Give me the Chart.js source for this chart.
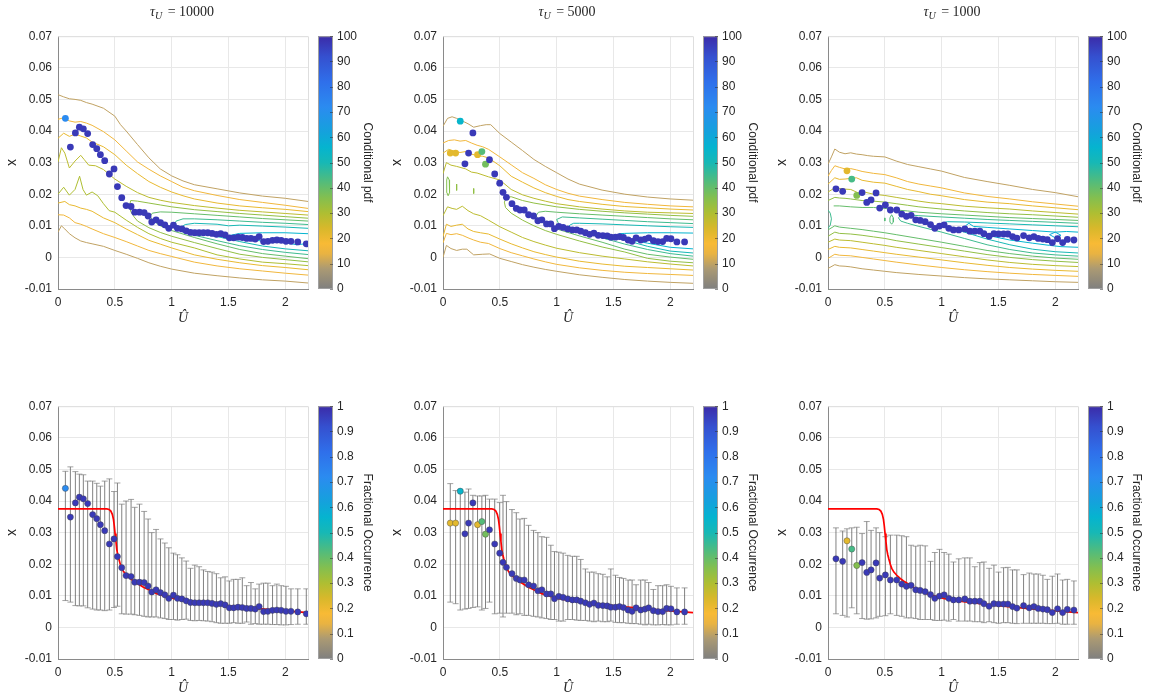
<!DOCTYPE html>
<html>
<head>
<meta charset="utf-8">
<script src="https://cdn.jsdelivr.net/npm/chart.js@4.4.1/dist/chart.umd.min.js"></script>
<style>
  html, body { margin: 0; padding: 0; background: #fff; width: 1153px; height: 700px; overflow: hidden; }
  canvas { position: absolute; }
</style>
</head>
<body>
<script>
// ---- axes / ticks ----
const xTicks = [0, 0.5, 1, 1.5, 2];
const yTicks = [-0.01, 0, 0.01, 0.02, 0.03, 0.04, 0.05, 0.06, 0.07];
const pdfTicks = [0, 10, 20, 30, 40, 50, 60, 70, 80, 90, 100];
const fracTicks = [0, 0.1, 0.2, 0.3, 0.4, 0.5, 0.6, 0.7, 0.8, 0.9, 1];
const tauValues = ['10000', '5000', '1000'];

// colour map (position 0..1, colour)
const cmapStops = [[0, '#7f7f7f'], [0.08, '#ab9a73'], [0.14, '#e9b342'], [0.18, '#f8ba35'], [0.24, '#d8b82b'],
  [0.30, '#aebe32'], [0.36, '#84bf4f'], [0.42, '#56bc78'], [0.50, '#17b8b5'], [0.56, '#05b4cf'],
  [0.62, '#14a2dc'], [0.72, '#2b8bf0'], [0.82, '#2f6fea'], [0.92, '#3550cf'], [1, '#3b2ba8']];

// red model curve (same in all three lower panels)
const redU = [0,0.43,0.45,0.465,0.478,0.488,0.495,0.502,0.51,0.517,0.526,0.535,0.548,0.561,0.58,0.605,0.635,0.664,0.70,0.752,0.80,0.869,0.94,1.016,1.12,1.25,1.40,1.545,1.70,1.84,2.00,2.20];
const redX = [0.0375,0.0375,0.0373,0.0368,0.0358,0.0342,0.0322,0.0297,0.0272,0.0247,0.0230,0.0217,0.0200,0.0187,0.0175,0.0165,0.0155,0.0147,0.0139,0.0127,0.0119,0.0107,0.0099,0.0092,0.0085,0.0079,0.0073,0.0067,0.0062,0.0057,0.0052,0.0047];

// ---- tau_U = 10000 ----
const uHat10000 = [0.065,0.109,0.153,0.188,0.223,0.261,0.305,0.341,0.373,0.411,0.452,0.493,0.523,0.561,0.599,0.643,0.675,0.717,0.758,0.793,0.825,0.863,0.902,0.940,0.975,1.016,1.051,1.090,1.128,1.166,1.204,1.242,1.280,1.318,1.356,1.394,1.432,1.470,1.508,1.546,1.584,1.622,1.660,1.698,1.736,1.770,1.809,1.847,1.888,1.926,1.964,2.006,2.050,2.110,2.185];
const x10000 = [0.0440,0.0349,0.0394,0.0412,0.0407,0.0392,0.0357,0.0344,0.0325,0.0306,0.0264,0.0280,0.0224,0.0189,0.0164,0.0161,0.0143,0.0143,0.0142,0.0131,0.0112,0.0119,0.0110,0.0103,0.0092,0.0102,0.0092,0.0090,0.0084,0.0079,0.0078,0.0078,0.0078,0.0078,0.0076,0.0073,0.0075,0.0071,0.0062,0.0062,0.0064,0.0063,0.0060,0.0060,0.0058,0.0066,0.0050,0.0051,0.0054,0.0055,0.0054,0.0051,0.0051,0.0049,0.0043];
const frac10000 = [0.72,0.97,0.97,0.97,0.97,0.97,0.97,0.97,0.97,0.97,0.97,0.97,0.97,0.97,0.97,0.97,0.97,0.97,0.97,0.97,0.97,0.97,0.97,0.97,0.97,0.97,0.97,0.97,0.97,0.97,0.97,0.97,0.97,0.97,0.97,0.97,0.97,0.97,0.97,0.97,0.97,0.97,0.97,0.97,0.97,0.97,0.97,0.97,0.97,0.97,0.97,0.97,0.97,0.97,0.97];
const hi10000 = [0.0494,0.0508,0.0493,0.0485,0.0483,0.0463,0.0463,0.0456,0.0447,0.0463,0.0470,0.0430,0.0457,0.0390,0.0400,0.0405,0.0380,0.0390,0.0367,0.0343,0.0300,0.0310,0.0280,0.0267,0.0252,0.0235,0.0230,0.0220,0.0210,0.0187,0.0197,0.0192,0.0182,0.0177,0.0175,0.0170,0.0157,0.0160,0.0147,0.0152,0.0152,0.0157,0.0132,0.0142,0.0122,0.0137,0.0140,0.0140,0.0132,0.0137,0.0132,0.0130,0.0122,0.0122,0.0122];
const lo10000 = [0.0085,0.0080,0.0069,0.0068,0.0068,0.0062,0.0058,0.0055,0.0055,0.0053,0.0055,0.0063,0.0067,0.0043,0.0042,0.0042,0.0040,0.0038,0.0035,0.0033,0.0033,0.0033,0.0030,0.0028,0.0025,0.0025,0.0023,0.0025,0.0026,0.0022,0.0021,0.0022,0.0021,0.0020,0.0018,0.0015,0.0013,0.0013,0.0013,0.0015,0.0013,0.0013,0.0017,0.0010,0.0012,0.0010,0.0010,0.0010,0.0009,0.0009,0.0008,0.0008,0.0009,0.0010,0.0010];
const contour10000 = [
  [10, [[0,0.0515],[0.05,0.0508],[0.1,0.0502],[0.15,0.0500],[0.2,0.0497],[0.25,0.0490],[0.3,0.0485],[0.4,0.0472],[0.5,0.0447],[0.55,0.0420],[0.6,0.0400],[0.7,0.0357],[0.8,0.0315],[0.9,0.0280],[1.0,0.0258],[1.1,0.0242],[1.2,0.0230],[1.4,0.0217],[1.6,0.0204],[1.8,0.0194],[2.0,0.0187],[2.2,0.0177]]],
  [10, [[0,0.0080],[0.03,0.0100],[0.06,0.0090],[0.1,0.0075],[0.15,0.0062],[0.2,0.0052],[0.25,0.0047],[0.3,0.0043],[0.4,0.0035],[0.5,0.0022],[0.6,0.0010],[0.7,-0.0003],[0.8,-0.0017],[0.9,-0.0028],[1.0,-0.0037],[1.2,-0.0050],[1.4,-0.0058],[1.6,-0.0065],[1.8,-0.0071],[2.0,-0.0075],[2.2,-0.0081]]],
  [16, [[0,0.0437],[0.05,0.0442],[0.1,0.0432],[0.15,0.0428],[0.2,0.0430],[0.25,0.0425],[0.3,0.0418],[0.4,0.0398],[0.5,0.0372],[0.6,0.0337],[0.7,0.0302],[0.8,0.0279],[0.9,0.0258],[1.0,0.0240],[1.1,0.0222],[1.2,0.0211],[1.4,0.0196],[1.6,0.0183],[1.8,0.0174],[2.0,0.0165],[2.2,0.0155]]],
  [16, [[0,0.0135],[0.05,0.0134],[0.1,0.0125],[0.15,0.0110],[0.2,0.0105],[0.25,0.0098],[0.3,0.0090],[0.4,0.0075],[0.5,0.0063],[0.6,0.0050],[0.7,0.0036],[0.8,0.0022],[0.9,0.0012],[1.0,0.0003],[1.2,-0.0015],[1.4,-0.0027],[1.6,-0.0036],[1.8,-0.0043],[2.0,-0.0050],[2.2,-0.0056]]],
  [21, [[0,0.0377],[0.05,0.0393],[0.1,0.0383],[0.15,0.0390],[0.2,0.0384],[0.25,0.0378],[0.3,0.0365],[0.4,0.0350],[0.5,0.0325],[0.6,0.0292],[0.7,0.0265],[0.8,0.0240],[0.9,0.0222],[1.0,0.0207],[1.1,0.0195],[1.2,0.0185],[1.4,0.0172],[1.6,0.0163],[1.8,0.0157],[2.0,0.0152],[2.2,0.0145]]],
  [21, [[0,0.0172],[0.06,0.0177],[0.1,0.0167],[0.15,0.0163],[0.2,0.0156],[0.25,0.0152],[0.3,0.0146],[0.4,0.0125],[0.5,0.0110],[0.6,0.0090],[0.7,0.0072],[0.8,0.0054],[0.9,0.0042],[1.0,0.0030],[1.2,0.0008],[1.4,-0.0006],[1.6,-0.0017],[1.8,-0.0026],[2.0,-0.0032],[2.2,-0.0039]]],
  [28, [[0,0.0302],[0.03,0.0347],[0.06,0.0330],[0.1,0.0283],[0.15,0.0305],[0.2,0.0323],[0.23,0.0310],[0.27,0.0292],[0.33,0.0290],[0.4,0.0278],[0.5,0.0248],[0.6,0.0225],[0.7,0.0205],[0.8,0.0190],[0.9,0.0181],[1.0,0.0174],[1.2,0.0164],[1.4,0.0156],[1.6,0.0149],[1.8,0.0144],[2.0,0.0139],[2.2,0.0134]]],
  [30, [[0,0.0200],[0.05,0.0222],[0.1,0.0197],[0.15,0.0215],[0.19,0.0257],[0.22,0.0215],[0.25,0.0197],[0.3,0.0207],[0.35,0.0195],[0.4,0.0170],[0.45,0.0148],[0.5,0.0143],[0.6,0.0118],[0.7,0.0095],[0.8,0.0075],[0.9,0.0060],[1.0,0.0048],[1.2,0.0030],[1.4,0.0008],[1.6,-0.0005],[1.8,-0.0015],[2.0,-0.0020],[2.2,-0.0026]]],
  [34, [[2.2,0.0124],[2.0,0.0129],[1.8,0.0134],[1.6,0.0139],[1.4,0.0145],[1.2,0.0151],[1.0,0.0160],[0.9,0.0166],[0.8,0.0172],[0.7,0.0178],[0.64,0.0180],[0.63,0.0165],[0.64,0.0145],[0.67,0.0128],[0.7,0.0115],[0.8,0.0094],[0.9,0.0079],[1.0,0.0067],[1.2,0.0047],[1.4,0.0028],[1.6,0.0010],[1.8,0.0000],[2.0,-0.0007],[2.2,-0.0014]]],
  [40, [[2.2,0.0115],[2.0,0.0119],[1.8,0.0123],[1.6,0.0128],[1.4,0.0133],[1.2,0.0138],[1.0,0.0143],[0.9,0.0144],[0.83,0.0140],[0.81,0.0130],[0.83,0.0118],[0.9,0.0100],[1.0,0.0085],[1.2,0.0063],[1.4,0.0043],[1.6,0.0025],[1.8,0.0012],[2.0,0.0004],[2.2,-0.0004]]],
  [45, [[2.2,0.0104],[2.0,0.0108],[1.8,0.0111],[1.6,0.0115],[1.4,0.0119],[1.2,0.0122],[1.1,0.0122],[1.04,0.0115],[1.02,0.0102],[1.05,0.0088],[1.1,0.0080],[1.2,0.0070],[1.4,0.0053],[1.6,0.0037],[1.8,0.0025],[2.0,0.0016],[2.2,0.0009]]],
  [50, [[2.2,0.0092],[2.0,0.0096],[1.8,0.0099],[1.6,0.0102],[1.5,0.0100],[1.4,0.0105],[1.2,0.0108],[1.12,0.0104],[1.08,0.0095],[1.12,0.0086],[1.2,0.0080],[1.4,0.0066],[1.6,0.0050],[1.8,0.0036],[2.0,0.0027],[2.2,0.0021]]],
  [56, [[2.2,0.0075],[2.0,0.0078],[1.8,0.0078],[1.6,0.0076],[1.52,0.0070],[1.5,0.0063],[1.55,0.0058],[1.6,0.0058],[1.8,0.0052],[2.0,0.0047],[2.1,0.0040],[2.2,0.0044]]]
];

// ---- tau_U = 5000 ----
const uHat5000 = [0.064,0.111,0.152,0.193,0.225,0.263,0.304,0.342,0.374,0.409,0.455,0.499,0.528,0.558,0.607,0.645,0.677,0.715,0.753,0.797,0.835,0.870,0.911,0.949,0.981,1.019,1.057,1.098,1.139,1.177,1.212,1.253,1.290,1.328,1.366,1.407,1.445,1.477,1.518,1.553,1.588,1.629,1.664,1.699,1.740,1.778,1.810,1.851,1.892,1.933,1.968,2.006,2.058,2.126];
const x5000 = [0.0330,0.0330,0.0431,0.0296,0.0330,0.0394,0.0325,0.0335,0.0295,0.0309,0.0264,0.0235,0.0206,0.0190,0.0170,0.0155,0.0150,0.0150,0.0135,0.0131,0.0116,0.0119,0.0106,0.0106,0.0091,0.0098,0.0095,0.0090,0.0087,0.0087,0.0083,0.0078,0.0073,0.0077,0.0070,0.0069,0.0068,0.0064,0.0064,0.0066,0.0063,0.0055,0.0051,0.0062,0.0055,0.0058,0.0062,0.0053,0.0050,0.0050,0.0060,0.0059,0.0049,0.0049];
const frac5000 = [0.22,0.22,0.55,0.97,0.97,0.97,0.22,0.42,0.38,0.97,0.97,0.97,0.97,0.97,0.97,0.97,0.97,0.97,0.97,0.97,0.97,0.97,0.97,0.97,0.97,0.97,0.97,0.97,0.97,0.97,0.97,0.97,0.97,0.97,0.97,0.97,0.97,0.97,0.97,0.97,0.97,0.97,0.97,0.97,0.97,0.97,0.97,0.97,0.97,0.97,0.97,0.97,0.97,0.97];
const hi5000 = [0.0455,0.0433,0.0435,0.0428,0.0438,0.0418,0.0416,0.0416,0.0418,0.0406,0.0406,0.0395,0.0418,0.0398,0.0373,0.0363,0.0343,0.0345,0.0323,0.0307,0.0300,0.0287,0.0285,0.0260,0.0240,0.0238,0.0235,0.0228,0.0225,0.0225,0.0215,0.0185,0.0175,0.0175,0.0170,0.0168,0.0160,0.0185,0.0165,0.0158,0.0155,0.0150,0.0150,0.0135,0.0150,0.0150,0.0142,0.0120,0.0132,0.0132,0.0135,0.0130,0.0125,0.0125];
const lo5000 = [0.0080,0.0075,0.0055,0.0058,0.0060,0.0063,0.0065,0.0055,0.0060,0.0080,0.0043,0.0045,0.0033,0.0045,0.0045,0.0040,0.0043,0.0038,0.0038,0.0035,0.0033,0.0030,0.0028,0.0025,0.0025,0.0020,0.0020,0.0025,0.0025,0.0023,0.0022,0.0022,0.0020,0.0018,0.0020,0.0018,0.0018,0.0020,0.0016,0.0015,0.0015,0.0013,0.0012,0.0012,0.0010,0.0008,0.0010,0.0008,0.0008,0.0009,0.0008,0.0008,0.0010,0.0010];
const contour5000 = [
  [10, [[0,0.0415],[0.04,0.0440],[0.08,0.0445],[0.12,0.0440],[0.18,0.0430],[0.22,0.0423],[0.27,0.0412],[0.33,0.0417],[0.38,0.0420],[0.42,0.0420],[0.5,0.0392],[0.6,0.0365],[0.7,0.0338],[0.8,0.0310],[0.9,0.0288],[1.0,0.0268],[1.1,0.0248],[1.2,0.0232],[1.4,0.0213],[1.6,0.0200],[1.8,0.0191],[2.0,0.0185],[2.2,0.0181]]],
  [10, [[0,0.0000],[0.03,0.0038],[0.07,0.0028],[0.12,0.0022],[0.17,0.0026],[0.21,0.0026],[0.27,0.0008],[0.35,0.0010],[0.41,0.0011],[0.5,-0.0003],[0.6,-0.0013],[0.7,-0.0023],[0.8,-0.0031],[0.9,-0.0038],[1.0,-0.0044],[1.2,-0.0055],[1.4,-0.0063],[1.6,-0.0070],[1.8,-0.0075],[2.0,-0.0079],[2.2,-0.0082]]],
  [16, [[0,0.0362],[0.05,0.0370],[0.1,0.0372],[0.15,0.0368],[0.2,0.0370],[0.25,0.0362],[0.3,0.0355],[0.35,0.0350],[0.4,0.0342],[0.5,0.0318],[0.6,0.0293],[0.7,0.0268],[0.8,0.0250],[0.9,0.0230],[1.0,0.0215],[1.1,0.0203],[1.2,0.0194],[1.4,0.0183],[1.6,0.0174],[1.8,0.0168],[2.0,0.0163],[2.2,0.0160]]],
  [16, [[0,0.0046],[0.03,0.0076],[0.07,0.0072],[0.12,0.0075],[0.17,0.0070],[0.22,0.0062],[0.27,0.0055],[0.33,0.0048],[0.4,0.0044],[0.5,0.0028],[0.6,0.0015],[0.7,0.0005],[0.8,-0.0005],[0.9,-0.0014],[1.0,-0.0022],[1.2,-0.0033],[1.4,-0.0041],[1.6,-0.0047],[1.8,-0.0051],[2.0,-0.0054],[2.2,-0.0057]]],
  [21, [[0,0.0330],[0.05,0.0342],[0.1,0.0336],[0.15,0.0332],[0.2,0.0335],[0.25,0.0327],[0.3,0.0322],[0.35,0.0320],[0.4,0.0315],[0.5,0.0290],[0.6,0.0257],[0.7,0.0238],[0.8,0.0220],[0.9,0.0205],[1.0,0.0193],[1.1,0.0183],[1.2,0.0177],[1.4,0.0168],[1.6,0.0161],[1.8,0.0157],[2.0,0.0153],[2.2,0.0150]]],
  [21, [[0,0.0066],[0.03,0.0105],[0.07,0.0098],[0.12,0.0102],[0.17,0.0105],[0.22,0.0090],[0.27,0.0082],[0.33,0.0078],[0.4,0.0074],[0.5,0.0058],[0.6,0.0043],[0.7,0.0030],[0.8,0.0018],[0.9,0.0009],[1.0,0.0001],[1.2,-0.0012],[1.4,-0.0021],[1.6,-0.0028],[1.8,-0.0032],[2.0,-0.0036],[2.2,-0.0040]]],
  [28, [[0,0.0265],[0.03,0.0300],[0.07,0.0292],[0.12,0.0288],[0.2,0.0280],[0.25,0.0270],[0.3,0.0267],[0.4,0.0255],[0.5,0.0245],[0.6,0.0215],[0.7,0.0198],[0.8,0.0187],[0.9,0.0178],[1.0,0.0170],[1.2,0.0160],[1.4,0.0153],[1.6,0.0147],[1.8,0.0143],[2.0,0.0141],[2.2,0.0139]]],
  [28, [[0,0.0132],[0.04,0.0160],[0.08,0.0155],[0.12,0.0152],[0.17,0.0162],[0.22,0.0148],[0.27,0.0138],[0.33,0.0132],[0.4,0.0118],[0.5,0.0097],[0.6,0.0080],[0.7,0.0063],[0.8,0.0050],[0.9,0.0039],[1.0,0.0029],[1.2,0.0015],[1.4,0.0004],[1.6,-0.0005],[1.8,-0.0014],[2.0,-0.0021],[2.2,-0.0027]]],
  [34, [[2.2,0.0130],[2.0,0.0133],[1.8,0.0137],[1.6,0.0141],[1.4,0.0146],[1.2,0.0152],[1.0,0.0160],[0.8,0.0172],[0.7,0.0180],[0.6,0.0192],[0.56,0.0190],[0.54,0.0175],[0.55,0.0158],[0.6,0.0140],[0.7,0.0118],[0.8,0.0100],[0.9,0.0085],[1.0,0.0073],[1.2,0.0052],[1.4,0.0033],[1.6,0.0017],[1.8,-0.0003],[2.0,-0.0012],[2.2,-0.0017]]],
  [40, [[2.2,0.0119],[2.0,0.0122],[1.8,0.0126],[1.6,0.0130],[1.4,0.0134],[1.2,0.0138],[1.0,0.0143],[0.9,0.0146],[0.84,0.0143],[0.82,0.0132],[0.84,0.0118],[0.9,0.0105],[1.0,0.0090],[1.2,0.0068],[1.4,0.0048],[1.6,0.0026],[1.8,0.0010],[2.0,0.0001],[2.2,-0.0006]]],
  [45, [[2.2,0.0107],[2.0,0.0110],[1.8,0.0113],[1.6,0.0117],[1.4,0.0121],[1.2,0.0125],[1.05,0.0128],[1.0,0.0120],[1.02,0.0105],[1.1,0.0092],[1.2,0.0082],[1.4,0.0062],[1.6,0.0042],[1.8,0.0025],[2.0,0.0012],[2.2,0.0004]]],
  [50, [[2.2,0.0095],[2.0,0.0097],[1.8,0.0100],[1.6,0.0103],[1.4,0.0106],[1.2,0.0108],[1.15,0.0108],[1.12,0.0103],[1.1,0.0096],[1.13,0.0088],[1.2,0.0083],[1.4,0.0070],[1.6,0.0055],[1.8,0.0035],[2.0,0.0020],[2.2,0.0014]]],
  [56, [[2.2,0.0077],[2.0,0.0078],[1.8,0.0078],[1.6,0.0076],[1.55,0.0075],[1.53,0.0068],[1.58,0.0062],[1.7,0.0052],[1.8,0.0045],[2.0,0.0032],[2.2,0.0027]]],
  [36, [[0.04,0.0255],[0.055,0.0245],[0.06,0.0225],[0.055,0.0205],[0.045,0.0195],[0.035,0.0205],[0.03,0.0225],[0.035,0.0245],[0.04,0.0255]]],
  [34, [[0.12,0.0232],[0.12,0.0212]]],
  [34, [[0.27,0.0218],[0.27,0.0202]]]
];

// ---- tau_U = 1000 ----
const uHat1000 = [0.070,0.129,0.167,0.209,0.253,0.300,0.341,0.379,0.423,0.455,0.505,0.549,0.605,0.649,0.690,0.731,0.772,0.811,0.855,0.902,0.940,0.981,1.022,1.063,1.104,1.151,1.204,1.248,1.292,1.336,1.372,1.418,1.460,1.501,1.545,1.583,1.624,1.662,1.721,1.771,1.812,1.850,1.891,1.930,1.974,2.020,2.065,2.106,2.164];
const x1000 = [0.0217,0.0209,0.0274,0.0248,0.0196,0.0205,0.0174,0.0182,0.0204,0.0156,0.0166,0.0150,0.0150,0.0137,0.0130,0.0133,0.0119,0.0117,0.0113,0.0104,0.0092,0.0099,0.0103,0.0092,0.0087,0.0087,0.0090,0.0083,0.0083,0.0083,0.0075,0.0067,0.0075,0.0074,0.0074,0.0074,0.0066,0.0061,0.0069,0.0062,0.0066,0.0060,0.0058,0.0056,0.0047,0.0059,0.0047,0.0057,0.0055];
const frac1000 = [0.97,0.97,0.22,0.44,0.36,0.97,0.97,0.97,0.97,0.97,0.97,0.97,0.97,0.97,0.97,0.97,0.97,0.97,0.97,0.97,0.97,0.97,0.97,0.97,0.97,0.97,0.97,0.97,0.97,0.97,0.97,0.97,0.97,0.97,0.97,0.97,0.97,0.97,0.97,0.97,0.97,0.97,0.97,0.97,0.97,0.97,0.97,0.97,0.97];
const hi1000 = [0.0315,0.0305,0.0312,0.0315,0.0317,0.0297,0.0335,0.0307,0.0315,0.0300,0.0287,0.0292,0.0292,0.0290,0.0287,0.0260,0.0257,0.0260,0.0258,0.0209,0.0237,0.0247,0.0237,0.0232,0.0207,0.0217,0.0220,0.0220,0.0192,0.0205,0.0207,0.0187,0.0197,0.0175,0.0189,0.0190,0.0182,0.0182,0.0167,0.0172,0.0169,0.0169,0.0165,0.0152,0.0162,0.0169,0.0150,0.0152,0.0147];
const lo1000 = [0.0043,0.0038,0.0033,0.0062,0.0043,0.0028,0.0026,0.0027,0.0030,0.0035,0.0037,0.0043,0.0038,0.0035,0.0030,0.0030,0.0028,0.0025,0.0025,0.0025,0.0022,0.0022,0.0023,0.0020,0.0025,0.0020,0.0020,0.0020,0.0018,0.0018,0.0015,0.0018,0.0015,0.0013,0.0015,0.0015,0.0013,0.0012,0.0013,0.0013,0.0013,0.0013,0.0013,0.0012,0.0012,0.0013,0.0010,0.0010,0.0010];
const contour1000 = [
  [10, [[0,0.0295],[0.03,0.0318],[0.06,0.0343],[0.1,0.0333],[0.15,0.0328],[0.2,0.0331],[0.25,0.0327],[0.3,0.0325],[0.35,0.0322],[0.4,0.0320],[0.5,0.0318],[0.6,0.0305],[0.7,0.0294],[0.8,0.0287],[0.9,0.0280],[1.0,0.0273],[1.2,0.0253],[1.4,0.0240],[1.6,0.0228],[1.8,0.0215],[2.0,0.0205],[2.2,0.0192]]],
  [10, [[0,-0.0035],[0.06,-0.0023],[0.1,-0.0027],[0.15,-0.0028],[0.2,-0.0030],[0.3,-0.0036],[0.4,-0.0040],[0.5,-0.0044],[0.6,-0.0048],[0.8,-0.0054],[1.0,-0.0059],[1.2,-0.0064],[1.4,-0.0068],[1.6,-0.0071],[1.8,-0.0074],[2.0,-0.0077],[2.2,-0.0079]]],
  [16, [[0,0.0257],[0.03,0.0275],[0.06,0.0290],[0.1,0.0285],[0.15,0.0280],[0.2,0.0281],[0.25,0.0277],[0.3,0.0272],[0.4,0.0266],[0.5,0.0262],[0.6,0.0252],[0.7,0.0240],[0.8,0.0232],[0.9,0.0226],[1.0,0.0220],[1.2,0.0204],[1.4,0.0193],[1.6,0.0185],[1.8,0.0176],[2.0,0.0169],[2.2,0.0162]]],
  [16, [[0,-0.0003],[0.06,0.0010],[0.1,0.0007],[0.15,0.0006],[0.2,0.0005],[0.3,0.0000],[0.4,-0.0005],[0.5,-0.0010],[0.6,-0.0015],[0.8,-0.0024],[1.0,-0.0032],[1.2,-0.0039],[1.4,-0.0045],[1.6,-0.0050],[1.8,-0.0054],[2.0,-0.0057],[2.2,-0.0060]]],
  [21, [[0,0.0232],[0.06,0.0252],[0.1,0.0247],[0.15,0.0248],[0.2,0.0250],[0.25,0.0252],[0.3,0.0244],[0.4,0.0238],[0.5,0.0235],[0.6,0.0225],[0.7,0.0215],[0.8,0.0208],[0.9,0.0200],[1.0,0.0195],[1.2,0.0183],[1.4,0.0175],[1.6,0.0170],[1.8,0.0163],[2.0,0.0157],[2.2,0.0151]]],
  [21, [[0,0.0025],[0.06,0.0035],[0.1,0.0032],[0.15,0.0031],[0.2,0.0030],[0.3,0.0025],[0.4,0.0020],[0.5,0.0015],[0.6,0.0010],[0.8,0.0001],[1.0,-0.0008],[1.2,-0.0017],[1.4,-0.0025],[1.6,-0.0032],[1.8,-0.0037],[2.0,-0.0041],[2.2,-0.0044]]],
  [28, [[0,0.0207],[0.06,0.0220],[0.1,0.0218],[0.15,0.0216],[0.2,0.0215],[0.28,0.0202],[0.33,0.0206],[0.4,0.0200],[0.5,0.0196],[0.6,0.0190],[0.7,0.0184],[0.8,0.0178],[0.9,0.0173],[1.0,0.0170],[1.2,0.0162],[1.4,0.0157],[1.6,0.0153],[1.8,0.0147],[2.0,0.0142],[2.2,0.0137]]],
  [28, [[0,0.0048],[0.06,0.0058],[0.1,0.0055],[0.15,0.0054],[0.2,0.0053],[0.3,0.0048],[0.4,0.0043],[0.5,0.0038],[0.6,0.0032],[0.8,0.0022],[1.0,0.0012],[1.2,0.0002],[1.4,-0.0008],[1.6,-0.0016],[1.8,-0.0022],[2.0,-0.0026],[2.2,-0.0029]]],
  [34, [[0,0.0180],[0.06,0.0190],[0.1,0.0188],[0.15,0.0187],[0.2,0.0185],[0.3,0.0180],[0.4,0.0178],[0.5,0.0175],[0.6,0.0170],[0.7,0.0165],[0.8,0.0160],[1.0,0.0153],[1.2,0.0147],[1.4,0.0142],[1.6,0.0138],[1.8,0.0135],[2.0,0.0131],[2.2,0.0127]]],
  [34, [[0,0.0067],[0.06,0.0080],[0.1,0.0076],[0.15,0.0075],[0.2,0.0074],[0.3,0.0070],[0.4,0.0065],[0.5,0.0060],[0.6,0.0053],[0.8,0.0042],[1.0,0.0031],[1.2,0.0020],[1.4,0.0009],[1.6,0.0000],[1.8,-0.0007],[2.0,-0.0012],[2.2,-0.0016]]],
  [40, [[0.05,0.0163],[0.1,0.0163],[0.2,0.0160],[0.3,0.0158],[0.4,0.0158],[0.5,0.0155],[0.6,0.0150],[0.7,0.0147],[0.8,0.0143],[1.0,0.0138],[1.2,0.0134],[1.4,0.0130],[1.6,0.0126],[1.8,0.0123],[2.0,0.0120],[2.2,0.0117]]],
  [40, [[0,0.0087],[0.06,0.0100],[0.1,0.0096],[0.15,0.0094],[0.2,0.0092],[0.3,0.0088],[0.4,0.0083],[0.5,0.0078],[0.6,0.0072],[0.8,0.0060],[1.0,0.0048],[1.2,0.0035],[1.4,0.0022],[1.6,0.0012],[1.8,0.0004],[2.0,-0.0002],[2.2,-0.0006]]],
  [45, [[2.2,0.0108],[2.0,0.0111],[1.8,0.0114],[1.6,0.0117],[1.4,0.0120],[1.2,0.0124],[1.0,0.0128],[0.8,0.0132],[0.7,0.0135],[0.64,0.0133],[0.62,0.0125],[0.64,0.0115],[0.7,0.0108],[0.8,0.0098],[1.0,0.0080],[1.2,0.0060],[1.4,0.0040],[1.6,0.0025],[1.8,0.0014],[2.0,0.0008],[2.2,0.0004]]],
  [50, [[2.2,0.0097],[2.0,0.0100],[1.8,0.0103],[1.6,0.0106],[1.4,0.0109],[1.2,0.0112],[1.05,0.0113],[1.0,0.0108],[1.02,0.0100],[1.1,0.0090],[1.2,0.0080],[1.4,0.0058],[1.6,0.0040],[1.8,0.0026],[2.0,0.0018],[2.2,0.0014]]],
  [56, [[2.2,0.0080],[2.1,0.0082],[2.0,0.0080],[1.8,0.0085],[1.6,0.0090],[1.4,0.0095],[1.28,0.0098],[1.24,0.0108],[1.21,0.0100],[1.22,0.0090],[1.3,0.0080],[1.4,0.0070],[1.6,0.0055],[1.8,0.0045],[1.95,0.0038],[2.05,0.0034],[2.2,0.0032]]],
  [60, [[1.95,0.0072],[2.0,0.0080],[2.05,0.0070],[2.0,0.0062],[1.95,0.0072]]],
  [45, [[0,0.0150],[0.02,0.0140],[0.03,0.0122],[0.02,0.0102],[0,0.0092]]],
  [42, [[0.56,0.0135],[0.575,0.0125],[0.575,0.0112],[0.56,0.0105],[0.545,0.0112],[0.545,0.0125],[0.56,0.0135]]],
  [42, [[0.50,0.0125],[0.50,0.0115]]]
];

const panelData = [
  { u: uHat10000, x: x10000, c: frac10000, hi: hi10000, lo: lo10000, contours: contour10000 },
  { u: uHat5000, x: x5000, c: frac5000, hi: hi5000, lo: lo5000, contours: contour5000 },
  { u: uHat1000, x: x1000, c: frac1000, hi: hi1000, lo: lo1000, contours: contour1000 }
];

function hexRgb(h) { return [1, 3, 5].map(i => parseInt(h.substr(i, 2), 16)); }
function cmap(v) {
  v = Math.max(0, Math.min(1, v));
  for (let i = 1; i < cmapStops.length; i++) {
    if (v <= cmapStops[i][0]) {
      const a = hexRgb(cmapStops[i - 1][1]), b = hexRgb(cmapStops[i][1]);
      const t = (v - cmapStops[i - 1][0]) / (cmapStops[i][0] - cmapStops[i - 1][0]);
      return 'rgb(' + a.map((q, j) => Math.round(q + (b[j] - q) * t)).join(',') + ')';
    }
  }
  return cmapStops[cmapStops.length - 1][1];
}

const fmt = v => String(Math.round(v * 1000) / 1000);

const colorbarPlugin = {
  id: 'colorbar',
  afterDraw(chart) {
    const cb = chart.scales.cb, ctx = chart.ctx;
    const x0 = chart.chartArea.right + 10, w = 15;
    const g = ctx.createLinearGradient(0, cb.bottom, 0, cb.top);
    cmapStops.forEach(s => g.addColorStop(s[0], s[1]));
    ctx.save();
    ctx.fillStyle = g;
    ctx.fillRect(x0, cb.top, w, cb.bottom - cb.top);
    ctx.strokeStyle = '#a0a0a0';
    ctx.lineWidth = 1;
    ctx.strokeRect(x0 + 0.5, cb.top + 0.5, w - 1, cb.bottom - cb.top - 1);
    ctx.strokeStyle = 'rgba(40,40,40,0.5)';
    cb.ticks.forEach(t => {
      const y = Math.round(cb.getPixelForValue(t.value)) + 0.5;
      ctx.beginPath(); ctx.moveTo(x0 + w - 3, y); ctx.lineTo(x0 + w, y); ctx.stroke();
    });
    ctx.restore();
  }
};

const framePlugin = {
  id: 'frame',
  beforeDatasetsDraw(chart) {
    const a = chart.chartArea, ctx = chart.ctx;
    ctx.save();
    ctx.strokeStyle = '#dedede';
    ctx.lineWidth = 1;
    ctx.beginPath();
    ctx.moveTo(a.left, a.top + 0.5); ctx.lineTo(a.right + 0.5, a.top + 0.5); ctx.lineTo(a.right + 0.5, a.bottom);
    ctx.stroke();
    ctx.restore();
  }
};

const errorBarPlugin = {
  id: 'errbars',
  beforeDatasetsDraw(chart) {
    const { ctx, chartArea: a, scales: { x, y } } = chart;
    chart.data.datasets.forEach(ds => {
      if (!ds.errHi) return;
      ctx.save();
      ctx.beginPath(); ctx.rect(a.left, a.top, a.right - a.left, a.bottom - a.top); ctx.clip();
      ctx.lineWidth = 0.8;
      ds.data.forEach((p, i) => {
        const px = x.getPixelForValue(p.x);
        const yh = y.getPixelForValue(ds.errHi[i]), yl = y.getPixelForValue(ds.errLo[i]);
        ctx.strokeStyle = 'rgba(70,70,70,0.85)';
        ctx.beginPath(); ctx.moveTo(px, yl); ctx.lineTo(px, yh); ctx.stroke();
        ctx.strokeStyle = 'rgba(120,120,120,0.85)';
        ctx.beginPath();
        ctx.moveTo(px - 3, yh); ctx.lineTo(px + 3, yh);
        ctx.moveTo(px - 3, yl); ctx.lineTo(px + 3, yl);
        ctx.stroke();
      });
      ctx.restore();
    });
  }
};

const tauTitlePlugin = {
  id: 'tauTitle',
  afterDraw(chart, args, opts) {
    if (!opts.text) return;
    const ctx = chart.ctx, a = chart.chartArea;
    const big = "italic 14px 'Liberation Serif', 'DejaVu Serif', serif";
    const sub = "italic 10px 'Liberation Serif', 'DejaVu Serif', serif";
    const rom = "14px 'Liberation Serif', 'DejaVu Serif', serif";
    ctx.save();
    ctx.fillStyle = '#262626';
    ctx.font = big; const w1 = ctx.measureText('τ').width;
    ctx.font = sub; const w2 = ctx.measureText('U').width;
    ctx.font = rom; const rest = ' = ' + opts.text; const w3 = ctx.measureText(rest).width + 4;
    let x = (a.left + a.right) / 2 - (w1 + w2 + w3) / 2;
    const base = 16;
    ctx.textBaseline = 'alphabetic';
    ctx.font = big; ctx.fillText('τ', x, base); x += w1;
    ctx.font = sub; ctx.fillText('U', x, base + 3); x += w2 + 2;
    ctx.font = rom; ctx.fillText(rest, x, base);
    ctx.restore();
  }
};

Chart.defaults.font.family = "'Liberation Sans', Arial, sans-serif";
Chart.defaults.font.size = 12;
Chart.defaults.color = '#262626';

function makePanel(k, isTop) {
  const lefts = [0, 385, 770], widths = [384, 384, 383];
  const cv = document.createElement('canvas');
  cv.width = widths[k]; cv.height = 330;
  cv.style.left = lefts[k] + 'px';
  cv.style.top = (isTop ? 0 : 370) + 'px';
  cv.style.width = widths[k] + 'px'; cv.style.height = '330px';
  document.body.appendChild(cv);

  const d = panelData[k];
  const datasets = [];
  const pts = {
    data: d.u.map((u, i) => ({ x: u, y: d.x[i] })),
    pointRadius: isTop ? 3.4 : 3.1,
    pointBackgroundColor: d.c.map(cmap),
    pointBorderColor: isTop ? d.c.map(cmap) : 'rgba(70,70,70,0.7)',
    pointBorderWidth: isTop ? 0 : 0.6,
    showLine: false,
    order: 0
  };
  if (!isTop) { pts.errHi = d.hi; pts.errLo = d.lo; }
  datasets.push(pts);
  if (!isTop) {
    datasets.push({
      data: redU.map((u, i) => ({ x: u, y: redX[i] })),
      showLine: true, borderColor: '#ff0000', borderWidth: 1.7, pointRadius: 0, tension: 0, order: 1
    });
  } else {
    d.contours.forEach(([lev, path]) => datasets.push({
      data: path.map(p => ({ x: p[0], y: p[1] })),
      showLine: true, borderColor: cmap(lev / 100), borderWidth: 1, pointRadius: 0, tension: 0, order: 2
    }));
  }

  const cbTicks = isTop ? pdfTicks : fracTicks;
  new Chart(cv, {
    type: 'scatter',
    data: { datasets },
    plugins: [framePlugin, errorBarPlugin, colorbarPlugin, tauTitlePlugin],
    options: {
      responsive: false, animation: false, events: [], devicePixelRatio: 1,
      layout: { padding: { top: 23, left: 0, right: 0, bottom: 0 } },
      plugins: {
        legend: { display: false }, tooltip: { enabled: false },
        tauTitle: { text: isTop ? tauValues[k] : '' }
      },
      scales: {
        x: {
          type: 'linear', position: 'bottom', min: 0, max: 2.2,
          afterBuildTicks: s => { s.ticks = xTicks.map(v => ({ value: v })); },
          afterFit: s => { s.height = 41; },
          ticks: { padding: 6, callback: fmt, maxRotation: 0, autoSkip: false },
          grid: { color: '#e8e8e8', drawTicks: false },
          border: { color: '#8a8a8a' },
          title: { display: true, text: 'Û', padding: { top: 0, bottom: 3 },
                   font: { family: "'Liberation Serif', 'DejaVu Serif', serif", style: 'italic', size: 14 } }
        },
        y: {
          type: 'linear', position: 'left', min: -0.01, max: 0.07,
          afterBuildTicks: s => { s.ticks = yTicks.map(v => ({ value: v })); },
          afterFit: s => { s.width = 58; },
          ticks: { padding: 6, callback: fmt, autoSkip: false },
          grid: { color: '#e8e8e8', drawTicks: false },
          border: { color: '#8a8a8a' },
          title: { display: true, text: 'x', padding: { top: 4, bottom: 0 }, font: { size: 14 } }
        },
        cb: {
          type: 'linear', position: 'right', min: 0, max: isTop ? 100 : 1,
          afterBuildTicks: s => { s.ticks = cbTicks.map(v => ({ value: v })); },
          afterFit: s => { s.width = widths[k] - 308; },
          ticks: { padding: 29, callback: fmt, autoSkip: false },
          grid: { display: false, drawTicks: false },
          border: { display: false },
          title: { display: true, text: isTop ? 'Conditional pdf' : 'Fractional Occurrence',
                   padding: { top: 9, bottom: 0 }, font: { size: 12 } }
        }
      }
    }
  });
}

for (let k = 0; k < 3; k++) { makePanel(k, true); makePanel(k, false); }
</script>
</body>
</html>
